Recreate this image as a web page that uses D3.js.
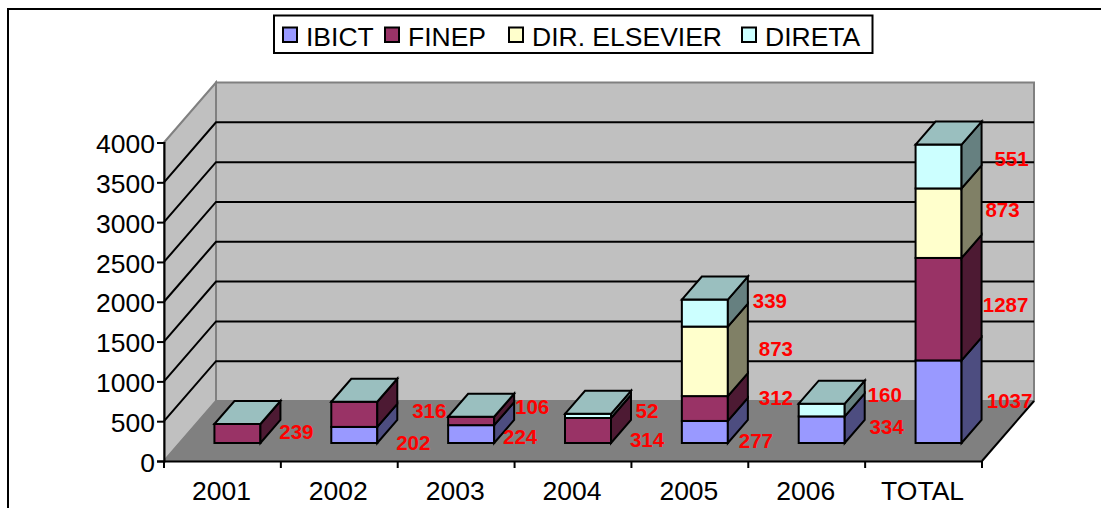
<!DOCTYPE html>
<html>
<head>
<meta charset="utf-8">
<title>Recursos por ano</title>
<style>
html, body {margin: 0; background: #fff;}
svg {display: block;}
text {font-family: "Liberation Sans", Arial, sans-serif;}
</style>
</head>
<body>
<div id="chart"></div>
<script src="https://cdn.jsdelivr.net/npm/d3@7/dist/d3.min.js"></script>
<script>
var categories = ['2001', '2002', '2003', '2004', '2005', '2006', 'TOTAL'];
var seriesNames = ['IBICT', 'FINEP', 'DIR. ELSEVIER', 'DIRETA'];
var ibict = [0, 202, 224, 0, 277, 334, 1037];
var finep = [239, 316, 106, 314, 312, 0, 1287];
var elsevier = [0, 0, 0, 0, 873, 0, 873];
var direta = [0, 0, 0, 52, 339, 160, 551];
var yTicks = [0, 500, 1000, 1500, 2000, 2500, 3000, 3500, 4000];

var seriesColors = ['#9999ff', '#993366', '#ffffcc', '#ccffff'];
var sideColors = ['#4d4d80', '#4d1a33', '#808066', '#668080'];

// label shift from the side of each segment, [series][category]
var labelShift = [
	[null, [16, 19], [6, 14], null, [8, 20], [22, 8], [28, 10]],
	[[16, 10], [32, 8], [18, -3], [16, 21], [28, 0], null, [24, 7]],
	[null, null, null, null, [28, -1], null, [21, -2]],
	[null, null, null, [16, 6], [22, -1], [20, -4], [30, 3]]
];

var width = 1101;
var height = 508;
var x0 = 164, x1 = 982;        // front edge of the floor
var yBase = 461, yTop = 142.5; // front edge of the left wall
var depthX = 52, depthY = -60;
var barWidth = 46, barDepthX = 20, barDepthY = -23;
var barShiftX = 15, barShiftY = -18;

var svg = d3.select('#chart').append('svg')
	.attr('width', width)
	.attr('height', height);

var x = d3.scaleBand().domain(categories).range([x0, x1]);
var y = d3.scaleLinear().domain([0, 4000]).range([yBase, yTop]);

function poly(pts) {
	return pts.map(function(p) { return p.join(','); }).join(' ');
}

// outer frame, runs off the right and bottom of the picture
svg.append('path')
	.attr('d', 'M8,508V9H1101')
	.attr('fill', 'none')
	.attr('stroke', '#000')
	.attr('stroke-width', 2);

// walls
svg.append('polygon')
	.attr('points', poly([[x0 + depthX, yTop + depthY], [x1 + depthX, yTop + depthY], [x1 + depthX, yBase + depthY], [x0 + depthX, yBase + depthY]]))
	.attr('fill', '#c0c0c0')
	.attr('stroke', '#808080')
	.attr('stroke-width', 2);
svg.append('polygon')
	.attr('points', poly([[x0, yTop], [x0 + depthX, yTop + depthY], [x0 + depthX, yBase + depthY], [x0, yBase]]))
	.attr('fill', '#c0c0c0')
	.attr('stroke', '#808080')
	.attr('stroke-width', 2);
// floor
svg.append('polygon')
	.attr('points', poly([[x0, yBase], [x0 + depthX, yBase + depthY], [x1 + depthX, yBase + depthY], [x1, yBase]]))
	.attr('fill', '#808080')
	.attr('stroke', '#808080')
	.attr('stroke-width', 1);

// gridlines along both walls
var gridTicks = yTicks.filter(function(d) { return d > 0 && d < 4000; });
svg.selectAll('.grid').data(gridTicks).enter().append('path')
	.attr('class', 'grid')
	.attr('fill', 'none')
	.attr('stroke', '#000')
	.attr('stroke-width', 2)
	.attr('d', function(d) {
		return 'M' + x0 + ',' + y(d) + 'L' + (x0 + depthX) + ',' + (y(d) + depthY) + 'H' + (x1 + depthX);
	});
svg.append('path')
	.attr('fill', 'none')
	.attr('stroke', '#000')
	.attr('stroke-width', 2)
	.attr('d', 'M' + x1 + ',' + yBase + 'L' + (x1 + depthX) + ',' + (yBase + depthY));

// axes
var yAxis = d3.axisLeft(y).tickValues(yTicks).tickFormat(d3.format('d')).tickSize(7).tickPadding(2);
var gy = svg.append('g').attr('transform', 'translate(' + x0 + ',0)').call(yAxis);
var xAxis = d3.axisBottom(x).tickSize(0).tickPadding(20);
var gx = svg.append('g').attr('transform', 'translate(0,' + yBase + ')').call(xAxis);
svg.append('g').selectAll('line')
	.data(categories.concat(['end']))
	.enter().append('line')
	.attr('x1', function(d, i) { return x0 + i * x.step(); })
	.attr('x2', function(d, i) { return x0 + i * x.step(); })
	.attr('y1', yBase)
	.attr('y2', yBase + 7)
	.attr('stroke', '#000')
	.attr('stroke-width', 2);
[gx, gy].forEach(function(g) {
	g.selectAll('text').attr('font-size', 26.5).attr('font-family', '"Liberation Sans", Arial, sans-serif').attr('fill', '#000');
	g.selectAll('line').attr('stroke', '#000').attr('stroke-width', 2);
	g.select('.domain').attr('stroke', '#000').attr('stroke-width', 2);
});
gx.selectAll('text').attr('dx', -1);
gy.selectAll('text').attr('dy', '0.38em');

// stacked boxes
var stack = d3.stack().keys(d3.range(4)).value(function(d, k) { return d[k]; });
var rows = categories.map(function(c, i) { return [ibict[i], finep[i], elsevier[i], direta[i]]; });
var layers = stack(rows);

function frontX(i) { return x(categories[i]) + x.bandwidth() / 2 + barShiftX - barWidth / 2; }
function yBar(v) { return y(v) + barShiftY; }

categories.forEach(function(c, i) {
	var g = svg.append('g').attr('class', 'bar');
	var left = frontX(i), right = left + barWidth;
	var topK = -1;
	layers.forEach(function(layer, k) {
		var d = layer[i];
		if (d[1] - d[0] <= 0) return;
		topK = k;
		g.append('rect')
			.attr('x', left).attr('y', yBar(d[1]))
			.attr('width', barWidth).attr('height', yBar(d[0]) - yBar(d[1]))
			.attr('fill', seriesColors[k])
			.attr('stroke', '#000').attr('stroke-width', 2);
		g.append('polygon')
			.attr('points', poly([[right, yBar(d[0])], [right + barDepthX, yBar(d[0]) + barDepthY], [right + barDepthX, yBar(d[1]) + barDepthY], [right, yBar(d[1])]]))
			.attr('fill', sideColors[k])
			.attr('stroke', '#000').attr('stroke-width', 2);
	});
	var t = yBar(layers[topK][i][1]);
	g.append('polygon')
		.attr('points', poly([[left, t], [left + barDepthX, t + barDepthY], [right + barDepthX, t + barDepthY], [right, t]]))
		.attr('fill', '#9abfbf')
		.attr('stroke', '#000').attr('stroke-width', 2);
});

// value labels
layers.forEach(function(layer, k) {
	layer.forEach(function(d, i) {
		var v = d[1] - d[0];
		var shift = labelShift[k][i];
		if (v <= 0 || !shift) return;
		svg.append('text')
			.attr('x', frontX(i) + barWidth + barDepthX + shift[0])
			.attr('y', yBar((d[0] + d[1]) / 2) + barDepthY / 2 + shift[1])
			.attr('text-anchor', 'middle')
			.attr('dominant-baseline', 'central')
			.attr('font-size', 20.5)
			.attr('font-weight', 'bold')
			.attr('fill', '#ff0000')
			.text(v);
	});
});

// legend
var legend = svg.append('g');
legend.append('rect')
	.attr('x', 274).attr('y', 15.5)
	.attr('width', 598.5).attr('height', 37.5)
	.attr('fill', '#fff')
	.attr('stroke', '#000').attr('stroke-width', 2);
var legendX = [283, 385, 509, 742];
seriesNames.forEach(function(name, k) {
	legend.append('rect')
		.attr('x', legendX[k]).attr('y', 27.5)
		.attr('width', 14).attr('height', 14.5)
		.attr('fill', seriesColors[k])
		.attr('stroke', '#000').attr('stroke-width', 2);
	legend.append('text')
		.attr('x', legendX[k] + 23).attr('y', 46)
		.attr('font-size', 26.5)
		.attr('fill', '#000')
		.text(name);
});
</script>
</body>
</html>
